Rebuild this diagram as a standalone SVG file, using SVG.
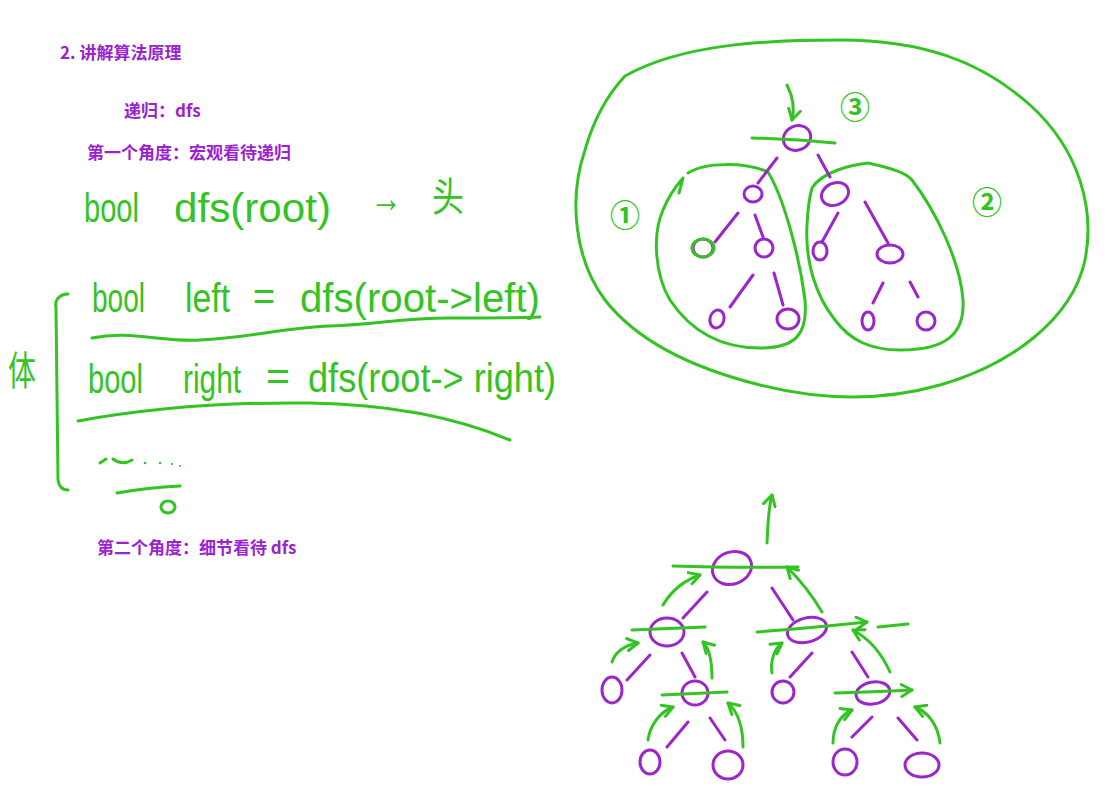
<svg xmlns="http://www.w3.org/2000/svg" width="1115" height="798" viewBox="0 0 1115 798">
<style>
.t{font-family:"Noto Sans CJK SC","Noto Sans",sans-serif;font-weight:bold;font-size:17px;fill:#9a23cf}
.h{font-family:"Liberation Sans","Noto Sans CJK SC",sans-serif;font-size:40px;fill:#33c322}
.g{fill:none;stroke:#33c322;stroke-width:3;stroke-linecap:round;stroke-linejoin:round}
.p{fill:none;stroke:#9b27cb;stroke-width:3;stroke-linecap:round}
.n{fill:none;stroke:#9b27cb;stroke-width:3}
.c{font-family:"Noto Sans CJK SC",sans-serif;font-size:30px;font-weight:bold;fill:#33c322;text-anchor:middle}
</style>
<defs>
<marker id="ah" viewBox="0 0 10 10" refX="8" refY="5" markerWidth="5" markerHeight="5" orient="auto" markerUnits="strokeWidth">
<path d="M1,1 L8,5 L1,9" fill="none" stroke="#33c322" stroke-width="2" stroke-linecap="round" stroke-linejoin="round"/>
</marker>
</defs>
<rect width="1115" height="798" fill="#ffffff"/>

<g id="headings">
<text class="t" x="60" y="59">2. 讲解算法原理</text>
<text class="t" x="124" y="117">递归：dfs</text>
<text class="t" x="87" y="159">第一个角度：宏观看待递归</text>
<text class="t" x="97" y="554">第二个角度：细节看待 dfs</text>
</g>

<g id="handwriting">
<text class="h" x="84" y="222" textLength="55" lengthAdjust="spacingAndGlyphs">bool</text>
<text class="h" x="174" y="222" textLength="157" lengthAdjust="spacingAndGlyphs">dfs(root)</text>
<text class="h" x="370" y="212" font-size="30" textLength="32" lengthAdjust="spacingAndGlyphs">→</text>
<text class="h" x="432" y="211" font-size="30" textLength="32" lengthAdjust="spacingAndGlyphs">头</text>

<text class="h" x="92" y="312" textLength="53" lengthAdjust="spacingAndGlyphs">bool</text>
<text class="h" x="185" y="312" textLength="45" lengthAdjust="spacingAndGlyphs">left</text>
<text class="h" x="253" y="310" textLength="22" lengthAdjust="spacingAndGlyphs">=</text>
<text class="h" x="300" y="312" textLength="240" lengthAdjust="spacingAndGlyphs">dfs(root-&gt;left)</text>

<text class="h" x="88" y="393" textLength="55" lengthAdjust="spacingAndGlyphs">bool</text>
<text class="h" x="183" y="393" textLength="58" lengthAdjust="spacingAndGlyphs">right</text>
<text class="h" x="266" y="390" textLength="24" lengthAdjust="spacingAndGlyphs">=</text>
<text class="h" x="308" y="392" textLength="248" lengthAdjust="spacingAndGlyphs">dfs(root-&gt; right)</text>

<text class="h" x="8" y="385" font-size="30" textLength="28" lengthAdjust="spacingAndGlyphs">体</text>
</g>

<g id="body-marks">
<path class="g" d="M68,294 C60,294 54,300 56,308 L58,480 C59,487 63,490 68,490"/>
<path class="g" d="M92,338 C130,330 160,342 200,340 C250,338 280,328 330,326 C380,324 400,318 450,318 C490,318 520,318 540,317"/>
<path class="g" d="M78,421 C150,408 230,402 310,403 C380,404 450,415 510,440"/>
<path class="g" stroke-width="2" d="M100,463 L106,459 M113,459 Q122,466 132,460"/>
<g fill="#33c322"><circle cx="145" cy="463" r="1.3"/><circle cx="160" cy="463" r="1.2"/><circle cx="172" cy="464" r="1.1"/><circle cx="180" cy="466" r="1"/></g>
<path class="g" d="M117,493 C140,489 160,487 180,486"/>
<ellipse class="g" cx="168" cy="507" rx="7" ry="6"/>
</g>

<g id="tree1-regions">
<path class="g" d="M625,76 C680,45 760,40 840,40 C920,40 980,60 1030,105 C1080,150 1095,210 1085,260 C1072,320 1010,365 940,385 C880,402 820,400 760,385 C700,370 640,345 605,300 C575,260 568,200 585,150 C595,115 610,92 625,76"/>
<path class="g" d="M688,173 C705,162 745,162 768,172 C785,200 800,260 805,300 C808,335 795,348 760,348 C720,348 690,330 670,300 C655,275 652,235 663,210 C669,195 676,186 683,178 L679,193"/>
<path class="g" d="M812,188 C822,172 850,165 868,163 C890,168 905,172 912,180 C935,210 960,260 963,300 C965,335 945,350 900,350 C870,350 850,340 835,320 C815,295 805,260 807,225 C808,205 810,195 812,188 Z"/>
<text class="c" x="625" y="226">①</text>
<text class="c" x="987" y="213">②</text>
<text class="c" x="855" y="118">③</text>
<path class="g" marker-end="url(#ah)" d="M787,85 C793,97 795,108 792,120"/>
</g>

<g id="tree1-edges">
<path class="p" d="M777,158 L758,183 M818,155 L830,177 M738,213 L715,242 M755,215 L763,237 M753,275 L730,307 M774,273 L783,305 M838,213 L822,242 M865,202 L888,243 M883,283 L873,303 M910,282 L918,297"/>
</g>
<g id="tree1-nodes">
<ellipse id="t1-root" class="n" cx="797" cy="138" rx="14" ry="12" transform="rotate(-25 797 138)"/>
<ellipse id="t1-l" class="n" cx="753" cy="194" rx="9" ry="8"/>
<ellipse id="t1-r" class="n" cx="835" cy="194" rx="14" ry="11" transform="rotate(-25 835 194)"/>
<ellipse id="t1-ll" class="n" cx="703" cy="248" rx="10" ry="9"/>
<ellipse class="g" cx="703" cy="248" rx="11" ry="9" stroke-width="3.5"/>
<ellipse id="t1-lr" class="n" cx="764" cy="248" rx="9" ry="9"/>
<ellipse id="t1-lrl" class="n" cx="717" cy="319" rx="7" ry="9" transform="rotate(15 717 319)"/>
<ellipse id="t1-lrr" class="n" cx="788" cy="319" rx="11" ry="10"/>
<ellipse id="t1-rl" class="n" cx="820" cy="251" rx="7" ry="9"/>
<ellipse id="t1-rr" class="n" cx="890" cy="254" rx="13" ry="9"/>
<ellipse id="t1-rrl" class="n" cx="868" cy="321" rx="6" ry="9"/>
<ellipse id="t1-rrr" class="n" cx="926" cy="321" rx="9" ry="9"/>
<path class="g" d="M752,138 Q795,139 835,143"/>
</g>

<g id="tree2-edges">
<path class="p" d="M707,592 L683,618 M772,588 L793,620 M650,655 L627,680 M682,653 L695,677 M688,722 L667,747 M710,718 L725,740 M812,653 L790,677 M852,652 L868,677 M872,717 L852,737 M898,718 L917,740"/>
</g>
<g id="tree2-nodes">
<ellipse id="t2-root" class="n" cx="732" cy="568" rx="20" ry="16" transform="rotate(-20 732 568)"/>
<ellipse id="t2-l" class="n" cx="667" cy="632" rx="17" ry="14"/>
<ellipse id="t2-r" class="n" cx="807" cy="630" rx="20" ry="12" transform="rotate(-15 807 630)"/>
<ellipse id="t2-ll" class="n" cx="612" cy="690" rx="10" ry="13"/>
<ellipse id="t2-lr" class="n" cx="695" cy="693" rx="13" ry="12"/>
<ellipse id="t2-lrl" class="n" cx="650" cy="762" rx="10" ry="12"/>
<ellipse id="t2-lrr" class="n" cx="728" cy="765" rx="15" ry="14"/>
<ellipse id="t2-rl" class="n" cx="783" cy="692" rx="11" ry="11"/>
<ellipse id="t2-rr" class="n" cx="873" cy="693" rx="17" ry="11" transform="rotate(-10 873 693)"/>
<ellipse id="t2-rrl" class="n" cx="845" cy="762" rx="12" ry="13"/>
<ellipse id="t2-rrr" class="n" cx="922" cy="765" rx="17" ry="12"/>
</g>
<g id="tree2-marks">
<path class="g" d="M673,566 Q730,568 798,567"/>
<path class="g" d="M632,630 L705,627"/>
<path class="g" marker-end="url(#ah)" d="M757,632 Q810,628 867,622"/>
<path class="g" stroke-width="1.5" d="M878,627 L908,624"/>
<path class="g" d="M662,695 L727,692"/>
<path class="g" marker-end="url(#ah)" d="M835,693 Q870,692 912,690"/>
<path class="g" marker-end="url(#ah)" d="M767,543 C768,525 768,510 772,495"/>
<path class="g" marker-end="url(#ah)" d="M663,605 C672,590 685,580 700,575"/>
<path class="g" marker-end="url(#ah)" d="M822,612 C812,595 800,580 787,567"/>
<path class="g" marker-end="url(#ah)" d="M612,662 C615,652 625,645 638,643"/>
<path class="g" marker-end="url(#ah)" d="M712,678 C712,660 709,648 703,642"/>
<path class="g" marker-end="url(#ah)" d="M648,740 C650,725 660,712 673,707"/>
<path class="g" marker-end="url(#ah)" d="M743,747 C743,725 738,712 728,703"/>
<path class="g" marker-end="url(#ah)" d="M772,673 C770,660 775,648 782,643"/>
<path class="g" marker-end="url(#ah)" d="M890,672 C880,650 868,638 853,630"/>
<path class="g" marker-end="url(#ah)" d="M833,743 C833,728 840,715 852,710"/>
<path class="g" marker-end="url(#ah)" d="M940,743 C938,725 928,712 915,707"/>
</g>
</svg>
